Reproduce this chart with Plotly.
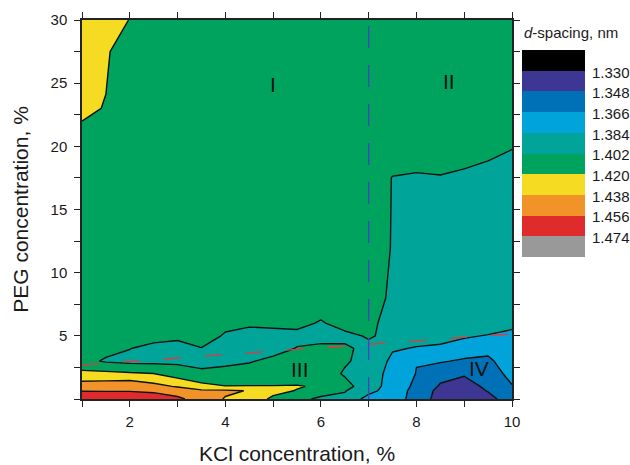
import plotly.graph_objects as go

# KCl concentration (%) grid columns and PEG concentration (%) grid rows
kcl = [1, 1.5, 2, 2.5, 3, 3.5, 4, 4.5, 5, 5.5, 6, 6.5, 7, 7.5, 8, 8.5, 9, 9.5, 10]
peg = [0, 0.65, 1, 2, 3, 4, 5, 6, 8, 12, 17.5, 20, 23, 27.5, 30]

# d-spacing (nm), one row per PEG level, one value per KCl level
d_spacing = [
    [1.4668, 1.4659, 1.4659, 1.4650, 1.4592, 1.4488, 1.4367, 1.4308, 1.4164, 1.4074, 1.3984, 1.3984, 1.3768, 1.3750, 1.3588, 1.3408, 1.3372, 1.3426, 1.3570],
    [1.4553, 1.4553, 1.4553, 1.4533, 1.4488, 1.4412, 1.4410, 1.4371, 1.4250, 1.4191, 1.4101, 1.4029, 1.3894, 1.3750, 1.3606, 1.3426, 1.3390, 1.3489, 1.3615],
    [1.4470, 1.4481, 1.4513, 1.4439, 1.4362, 1.4254, 1.4204, 1.4205, 1.4207, 1.4214, 1.4173, 1.4074, 1.3930, 1.3759, 1.3624, 1.3462, 1.3408, 1.3516, 1.3651],
    [1.4245, 1.4247, 1.4223, 1.4204, 1.4113, 1.4056, 1.4092, 1.4119, 1.4092, 1.4074, 1.4110, 1.4002, 1.3948, 1.3768, 1.3655, 1.3534, 1.3498, 1.3570, 1.3714],
    [1.4074, 1.4000, 1.3975, 1.3970, 1.3984, 1.3966, 1.3971, 1.4002, 1.4074, 1.4110, 1.4092, 1.4038, 1.3966, 1.3804, 1.3665, 1.3678, 1.3633, 1.3624, 1.3768],
    [1.4110, 1.4067, 1.4024, 1.3966, 1.3966, 1.4011, 1.3966, 1.3966, 1.3939, 1.4029, 1.4065, 1.4047, 1.3975, 1.3854, 1.3831, 1.3804, 1.3768, 1.3714, 1.3795],
    [1.4119, 1.4110, 1.4110, 1.4088, 1.4052, 1.4139, 1.3993, 1.3975, 1.3966, 1.3966, 1.3948, 1.3975, 1.4038, 1.3973, 1.3894, 1.3912, 1.3858, 1.3831, 1.3822],
    [1.4110, 1.4110, 1.4128, 1.4110, 1.4110, 1.4110, 1.4083, 1.4040, 1.4056, 1.4074, 1.4002, 1.4092, 1.4065, 1.3948, 1.3930, 1.3948, 1.3930, 1.3930, 1.3858],
    [1.4110, 1.4119, 1.4110, 1.4105, 1.4116, 1.4110, 1.4121, 1.4108, 1.4114, 1.4110, 1.4135, 1.4110, 1.4110, 1.3984, 1.3939, 1.3948, 1.3948, 1.3948, 1.3912],
    [1.4101, 1.4110, 1.4118, 1.4124, 1.4110, 1.4102, 1.4115, 1.4120, 1.4110, 1.4106, 1.4112, 1.4110, 1.4110, 1.4011, 1.3948, 1.3948, 1.3948, 1.3948, 1.3930],
    [1.4110, 1.4110, 1.4114, 1.4121, 1.4110, 1.4108, 1.4117, 1.4110, 1.4104, 1.4113, 1.4110, 1.4108, 1.4110, 1.4015, 1.4002, 1.4011, 1.3984, 1.3957, 1.3939],
    [1.4128, 1.4110, 1.4110, 1.4116, 1.4110, 1.4122, 1.4110, 1.4105, 1.4118, 1.4110, 1.4112, 1.4110, 1.4110, 1.4110, 1.4110, 1.4110, 1.4110, 1.4074, 1.4029],
    [1.4236, 1.4191, 1.4110, 1.4110, 1.4115, 1.4110, 1.4120, 1.4110, 1.4108, 1.4110, 1.4116, 1.4110, 1.4110, 1.4113, 1.4110, 1.4118, 1.4110, 1.4110, 1.4110],
    [1.4290, 1.4227, 1.4074, 1.4110, 1.4110, 1.4106, 1.4110, 1.4119, 1.4110, 1.4110, 1.4110, 1.4114, 1.4110, 1.4110, 1.4110, 1.4110, 1.4122, 1.4110, 1.4110],
    [1.4308, 1.4272, 1.4196, 1.4128, 1.4110, 1.4110, 1.4116, 1.4110, 1.4110, 1.4104, 1.4110, 1.4110, 1.4110, 1.4118, 1.4110, 1.4110, 1.4110, 1.4110, 1.4110],
]

# contour levels (nm) and band colours, lowest band first
level_labels = ["1.330", "1.348", "1.366", "1.384", "1.402", "1.420", "1.438", "1.456", "1.474"]
band_colors = ["#000000", "#3D3793", "#0071B6", "#00A3DA", "#00A499",
               "#00A35D", "#F5DC22", "#F2932A", "#E02B2C", "#999999"]

# phase-boundary guide lines
guide_kcl = [1, 10]
guide_peg = [2.7, 5.15]
split_kcl = [7, 7]
split_peg = [0, 30]

# region labels
region_text = ["I", "II", "III", "IV"]
region_kcl = [5.0, 8.69, 5.57, 9.3]
region_peg = [24.9, 25.1, 2.33, 2.45]

x_ticks = list(range(1, 11))
x_ticktext = [str(v) if v % 2 == 0 else "" for v in x_ticks]
y_ticks = [0, 2.5, 5, 7.5, 10, 12.5, 15, 17.5, 20, 22.5, 25, 27.5, 30]
y_ticktext = [str(int(v)) if v % 5 == 0 and v > 0 else "" for v in y_ticks]

n_bands = len(band_colors)
scale = [[k / (n_bands - 1), c] for k, c in enumerate(band_colors)]

FONT = "Liberation Sans, Arial, sans-serif"
INK = "#1a1a1a"

fig = go.Figure()

fig.add_trace(go.Contour(
    x=kcl, y=peg, z=d_spacing,
    autocontour=False,
    contours=dict(start=float(level_labels[0]), end=float(level_labels[-1]) + 0.0005,
                  size=0.018, coloring="fill", showlines=True),
    line=dict(color="#111111", width=1.4, smoothing=0),
    colorscale=scale, showscale=False, hoverinfo="skip",
))

fig.add_trace(go.Scatter(
    x=guide_kcl, y=guide_peg, mode="lines",
    line=dict(color="#E8383D", width=1.3, dash="17px,24px"),
    showlegend=False, hoverinfo="skip",
))
fig.add_trace(go.Scatter(
    x=split_kcl, y=split_peg, mode="lines",
    line=dict(color="#4444BB", width=1.3, dash="22px,17px"),
    showlegend=False, hoverinfo="skip",
))

# colour key drawn as a one-column heatmap, lowest d-spacing on top
fig.add_trace(go.Heatmap(
    z=[[k] for k in range(n_bands)], x=[0], y=list(range(n_bands)),
    colorscale=scale, zmin=0, zmax=n_bands - 1, showscale=False,
    xaxis="x2", yaxis="y2", hoverinfo="skip",
))

axis_common = dict(
    automargin=False,
    showgrid=False, zeroline=False, showline=True, linecolor="#222222",
    linewidth=1.5, mirror="ticks", ticks="outside", ticklen=6, tickwidth=1.2,
    tickcolor="#222222", tickfont=dict(family=FONT, size=15, color=INK),
)

fig.update_layout(
    template="none",
    width=630, height=465,
    margin=dict(l=82, r=0, t=20, b=66, autoexpand=False),
    paper_bgcolor="white", plot_bgcolor="white",
    font=dict(family=FONT, color=INK),
    xaxis=dict(range=[1, 10], domain=[0, 0.7847], tickmode="array",
               tickvals=x_ticks, ticktext=x_ticktext, ticklabelstandoff=2,
               title=dict(text="KCl concentration, %", font=dict(size=21, family=FONT, color=INK),
                          standoff=22),
               **axis_common),
    yaxis=dict(range=[0, 30], tickmode="array", tickvals=y_ticks, ticktext=y_ticktext,
               ticklabelstandoff=4,
               title=dict(text="PEG concentration, %", font=dict(size=21, family=FONT, color=INK),
                          standoff=16),
               **axis_common),
    xaxis2=dict(domain=[0.8029, 0.9179], anchor="y2", range=[-0.5, 0.5], automargin=False,
                showticklabels=False, showgrid=False, zeroline=False, showline=False, ticks=""),
    yaxis2=dict(domain=[0.3747, 0.9208], anchor="x2", side="right", automargin=False,
                range=[n_bands - 0.5, -0.5], showgrid=False, zeroline=False,
                showline=False, ticks="", tickmode="array",
                tickvals=[k + 0.58 for k in range(len(level_labels))],
                ticktext=level_labels, ticklabelstandoff=6,
                tickfont=dict(family=FONT, size=15, color=INK)),
    showlegend=False,
)

fig.add_annotation(
    text="<i>d</i>-spacing, nm", xref="paper", yref="paper",
    x=0.803, y=0.9657, xanchor="left", yanchor="middle", showarrow=False,
    font=dict(family=FONT, size=15, color=INK),
)

for t, xv, yv in zip(region_text, region_kcl, region_peg):
    fig.add_annotation(text=t, x=xv, y=yv, xref="x", yref="y", showarrow=False,
                       font=dict(family=FONT, size=21, color="#111111"))

fig.write_html("out.html")
